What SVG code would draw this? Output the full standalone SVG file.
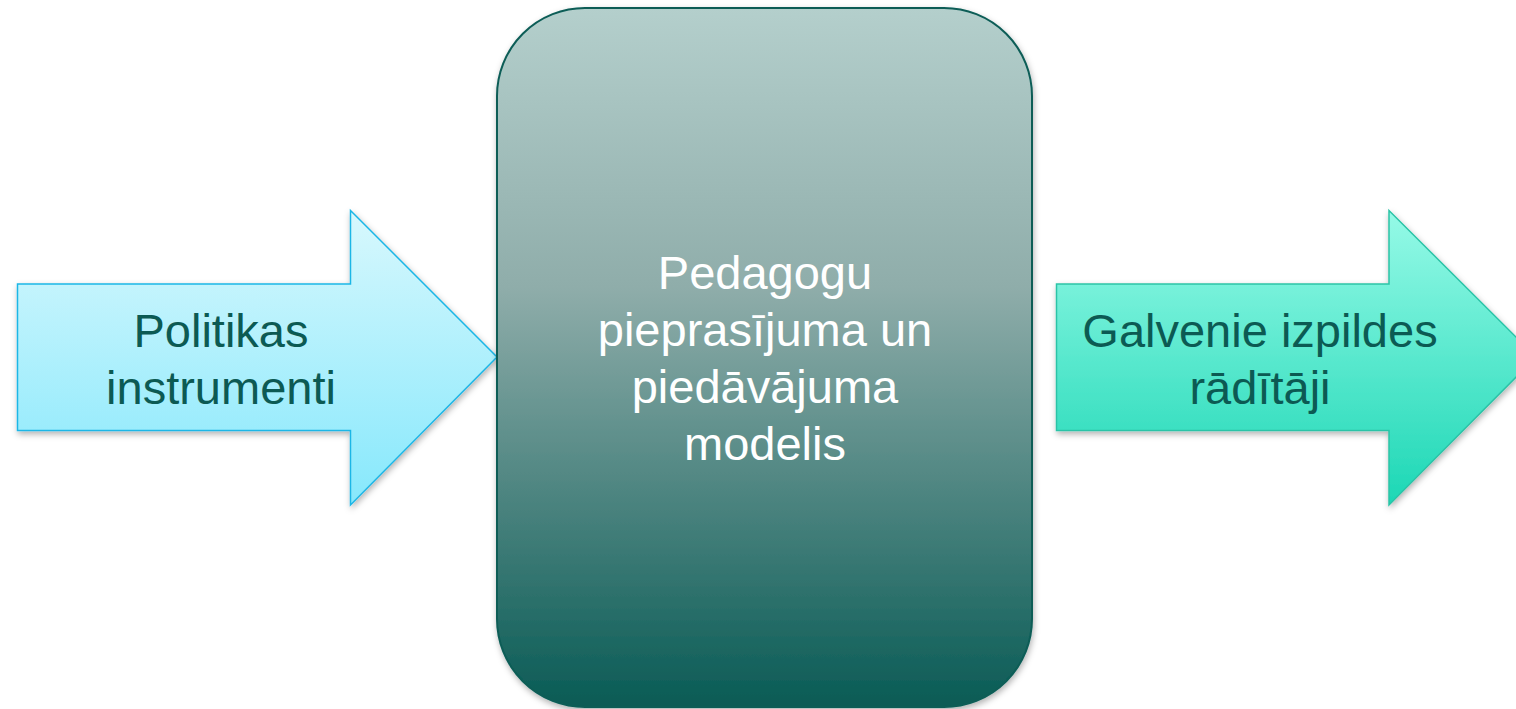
<svg xmlns="http://www.w3.org/2000/svg" width="1516" height="709" viewBox="0 0 1516 709">
  <style>
    .lbl { font-family: "Liberation Sans", Arial, sans-serif; font-size: 47px; text-anchor: middle; }
    .dark { fill: #0C5A53; }
    .light { fill: #FFFFFF; }
  </style>
  <defs>
    <linearGradient id="gLeft" x1="0" y1="0" x2="0" y2="1">
      <stop offset="0" stop-color="#D8F8FD"/>
      <stop offset="1" stop-color="#86E8FC"/>
    </linearGradient>
    <linearGradient id="gRight" x1="0" y1="0" x2="0" y2="1">
      <stop offset="0" stop-color="#96FAE7"/>
      <stop offset="1" stop-color="#1CD7B5"/>
    </linearGradient>
    <linearGradient id="gBox" x1="0" y1="0" x2="0" y2="1">
      <stop offset="0" stop-color="#B4CFCC"/>
      <stop offset="0.4" stop-color="#8FADAA"/>
      <stop offset="1" stop-color="#095B55"/>
    </linearGradient>
    <filter id="shadow" x="-10%" y="-10%" width="120%" height="120%">
      <feDropShadow dx="1" dy="3" stdDeviation="3" flood-color="#000000" flood-opacity="0.3"/>
    </filter>
  </defs>

  <g id="connectors"></g>

  <g id="node-left">
    <path d="M17.5,284 L350.5,284 L350.5,210.5 L497,357 L350.5,505 L350.5,430.5 L17.5,430.5 Z" fill="url(#gLeft)" stroke="#1DB6E6" stroke-width="1.5" filter="url(#shadow)"/>
    <text class="lbl dark" x="221" y="347">Politikas</text>
    <text class="lbl dark" x="221" y="404">instrumenti</text>
  </g>

  <g id="node-center">
    <rect x="497" y="8" width="535" height="699" rx="88" ry="88" fill="url(#gBox)" stroke="#0B5D57" stroke-width="2" filter="url(#shadow)"/>
    <text class="lbl light" x="765" y="289">Pedagogu</text>
    <text class="lbl light" x="765" y="346">pieprasījuma un</text>
    <text class="lbl light" x="765" y="403">piedāvājuma</text>
    <text class="lbl light" x="765" y="460">modelis</text>
  </g>

  <g id="node-right">
    <path d="M1056.5,284 L1389,284 L1389,210.5 L1536,357 L1389,505 L1389,430.5 L1056.5,430.5 Z" fill="url(#gRight)" stroke="#2CC3A7" stroke-width="1.5" filter="url(#shadow)"/>
    <text class="lbl dark" x="1260" y="347">Galvenie izpildes</text>
    <text class="lbl dark" x="1260" y="404">rādītāji</text>
  </g>
</svg>
